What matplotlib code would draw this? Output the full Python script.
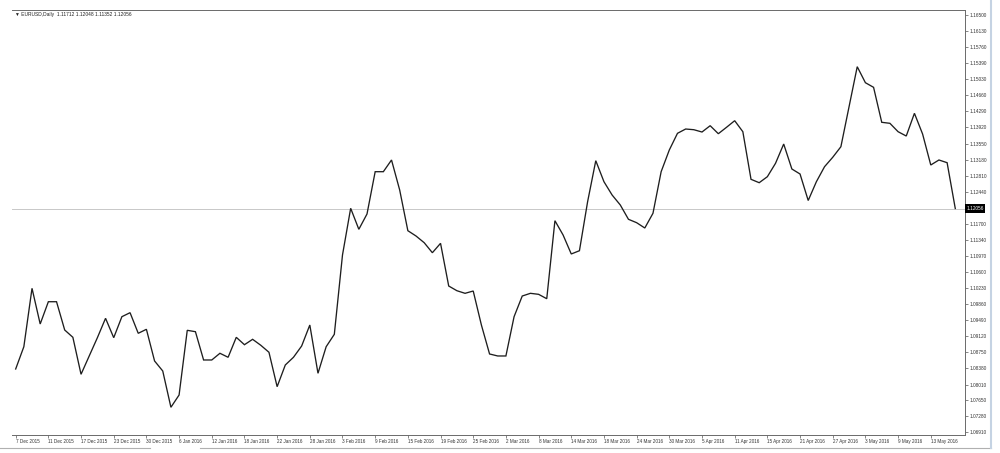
import matplotlib
matplotlib.use("Agg")
import matplotlib.pyplot as plt
from matplotlib.lines import Line2D
import numpy as np

plt.rcParams['font.family'] = ['Liberation Sans', 'DejaVu Sans']

# EURUSD daily closes, one per trading bar (7 Dec 2015 .. 18 May 2016)
closes = [
    1.08368, 1.08880, 1.10222, 1.09402, 1.09914, 1.09914, 1.09264, 1.09096, 1.08246, 1.08667,
    1.09087, 1.09533, 1.09087, 1.09570, 1.09662, 1.09188, 1.09280, 1.08552, 1.08322, 1.07488,
    1.07770, 1.09257, 1.09225, 1.08575, 1.08575, 1.08729, 1.08637, 1.09096, 1.08926, 1.09050,
    1.08913, 1.08752, 1.07961, 1.08460, 1.08637, 1.08896, 1.09379, 1.08269, 1.08880, 1.09165,
    1.10988, 1.12061, 1.11578, 1.11930, 1.12902, 1.12902, 1.13171, 1.12481, 1.11546, 1.11424,
    1.11270, 1.11040, 1.11256, 1.10275, 1.10167, 1.10107, 1.10160, 1.09379, 1.08713, 1.08667,
    1.08667, 1.09570, 1.10045, 1.10107, 1.10084, 1.09983, 1.11776, 1.11447, 1.11011, 1.11086,
    1.12212, 1.13155, 1.12672, 1.12366, 1.12137, 1.11808, 1.11730, 1.11608, 1.11946, 1.12902,
    1.13401, 1.13784, 1.13883, 1.13867, 1.13814, 1.13959, 1.13775, 1.13922, 1.14074, 1.13821,
    1.12727, 1.12649, 1.12787, 1.13095, 1.13538, 1.12964, 1.12849, 1.12240, 1.12672, 1.13017,
    1.13233, 1.13476, 1.14396, 1.15315, 1.14947, 1.14841, 1.14037, 1.14014, 1.13821, 1.13722,
    1.14244, 1.13768, 1.13056, 1.13171, 1.13109, 1.12056,
]

# one date label every 4 bars
date_labels = [
    "7 Dec 2015", "11 Dec 2015", "17 Dec 2015", "23 Dec 2015", "30 Dec 2015",
    "6 Jan 2016", "12 Jan 2016", "18 Jan 2016", "22 Jan 2016", "28 Jan 2016",
    "3 Feb 2016", "9 Feb 2016", "15 Feb 2016", "19 Feb 2016", "25 Feb 2016",
    "2 Mar 2016", "8 Mar 2016", "14 Mar 2016", "18 Mar 2016", "24 Mar 2016",
    "30 Mar 2016", "5 Apr 2016", "11 Apr 2016", "15 Apr 2016", "21 Apr 2016",
    "27 Apr 2016", "3 May 2016", "9 May 2016", "13 May 2016",
]
label_step = 4

price_ticks = [
    1.16500, 1.16130, 1.15760, 1.15390, 1.15030, 1.14660, 1.14290, 1.13920,
    1.13550, 1.13180, 1.12810, 1.12440, 1.11700, 1.11340, 1.10970, 1.10600,
    1.10230, 1.09860, 1.09490, 1.09120, 1.08750, 1.08380, 1.08010, 1.07650,
    1.07280, 1.06910,
]

symbol = "EURUSD,Daily"
ohlc = [1.11712, 1.12048, 1.11352, 1.12056]
last_price = 1.12056

W, H = 1000, 453
fig = plt.figure(figsize=(W / 100, H / 100), dpi=100)
fig.patch.set_facecolor("white")

# plot area in pixels: x 12..965, y 10..435
left, right, top, bottom = 12, 965, 10, 435
ax = fig.add_axes([left / W, 1 - bottom / H, (right - left) / W, (bottom - top) / H])
ax.set_facecolor("white")

x = np.arange(len(closes))
ax.plot(x, closes, color="#1e1e1e", lw=0.95, solid_joinstyle="miter")

# current price line
ax.axhline(last_price, color="#c8c8c8", lw=0.7, zorder=0)

ax.set_xlim(-0.45, 116.19)
ax.set_ylim(1.06851, 1.16618)

ax.spines["left"].set_visible(False)
for side in ["top", "right", "bottom"]:
    ax.spines[side].set_color("#6a6a6a")
    ax.spines[side].set_linewidth(0.7)

ax.yaxis.tick_right()
ax.set_yticks(price_ticks)
ax.set_yticklabels([f"{v:.5f}" for v in price_ticks])
ax.tick_params(axis="y", which="both", direction="out", length=2.2, width=0.5,
               color="#555555", labelsize=3.4, labelcolor="#333333", pad=1.2)

tick_pos = [i * label_step for i in range(len(date_labels))]
ax.set_xticks(tick_pos)
ax.set_xticklabels(date_labels, ha="left")
ax.tick_params(axis="x", which="both", direction="out", length=2.2, width=0.5,
               color="#555555", labelsize=3.3, labelcolor="#333333", pad=0.8)

# current price tag on the axis
ax.text(1.0015, last_price, f"{last_price:.5f}", transform=ax.get_yaxis_transform(),
        ha="left", va="center", fontsize=3.4, color="white",
        bbox=dict(boxstyle="square,pad=0.35", fc="black", ec="none"))

# symbol header
fig.text(15 / W, 1 - 14.7 / H, "\u25bc " + symbol + "  " + " ".join(f"{v:.5f}" for v in ohlc),
         ha="left", va="center", fontsize=3.5, color="#222222")

# window borders (bottom edge has a small gap like the terminal tab strip)
yb = 1 - 448 / H
fig.add_artist(Line2D([0, 150 / W], [yb, yb], color="#b0b0b0", lw=0.8))
fig.add_artist(Line2D([200 / W, 991 / W], [yb, yb], color="#b0b0b0", lw=0.8))
fig.add_artist(Line2D([991 / W, 991 / W], [yb, 1.0], color="#c5d3e3", lw=1.5))

fig.savefig("out.png", dpi=100, facecolor="white")
plt.close(fig)
